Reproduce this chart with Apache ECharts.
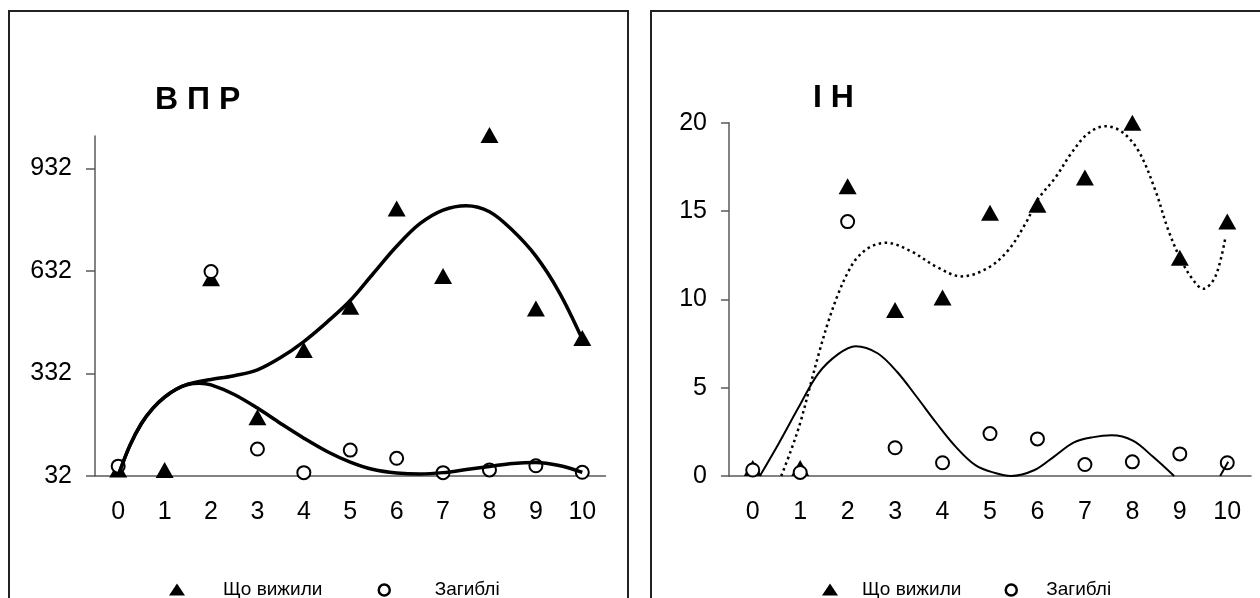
<!DOCTYPE html>
<html><head><meta charset="utf-8">
<script src="https://cdn.jsdelivr.net/npm/echarts@6/dist/echarts.min.js"></script>
<style>html,body{margin:0;padding:0;background:#fff}#c{width:1260px;height:598px}</style>
</head><body><div id="c"></div>
<script>
const categories = ['0','1','2','3','4','5','6','7','8','9','10'];
const xIndex = [0,1,2,3,4,5,6,7,8,9,10];
const leftTitle = 'В П Р';
const rightTitle = 'І Н';
const nameSurvived = 'Що вижили';
const nameDead = 'Загиблі';
const leftYTicks = [32,332,632,932];
const rightYTicks = [0,5,10,15,20];

// left chart (ВПР)
const survivedL = [50,49,610,203,400,527,815,617,1030,522,435];
const deadL = [60,null,630,110,41,107,83,41,49,61,42];
const trendSurvivedL = [[0,32],[0.25,120],[0.5,185],[0.75,230],[1,262],[1.25,285],[1.5,300],[1.75,308],[2,314],[2.5,325],[3,342],[3.5,378],[4,425],[4.5,482],[5,545],[5.5,625],[6,704],[6.5,770],[7,810],[7.5,823],[8,805],[8.5,750],[9,675],[9.5,570],[10,432]];
const trendDeadL = [[0,32],[0.25,120],[0.5,185],[0.75,230],[1,262],[1.25,285],[1.5,299],[1.75,303],[2,298],[2.5,270],[3,230],[3.5,185],[4,142],[4.5,103],[5,72],[5.5,50],[6,40],[6.5,37],[7,41],[7.5,50],[8,59],[8.5,68],[9,71],[9.5,62],[10,42]];

// right chart (ІН)
const survivedR = [0.45,0.45,16.4,9.4,10.1,14.9,15.35,16.9,20.0,12.35,14.4];
const deadR = [0.34,0.2,14.4,1.6,0.75,2.4,2.1,0.65,0.8,1.25,0.75];
const trendSurvivedR = [[0.6,0],[0.8,1.4],[1.0,3.0],[1.2,5.0],[1.4,7.0],[1.6,8.8],[1.8,10.3],[2.0,11.5],[2.2,12.35],[2.5,13.0],[2.82,13.2],[3.35,12.7],[3.9,11.8],[4.4,11.3],[4.97,11.8],[5.39,12.8],[5.75,14.3],[6.02,15.7],[6.38,16.9],[6.72,18.3],[7.07,19.4],[7.43,19.8],[7.77,19.5],[8.13,18.4],[8.48,16.2],[8.76,13.9],[9.03,12.2],[9.28,11.1],[9.49,10.6],[9.75,11.3],[9.96,13.5]];
const trendDeadR = [[0.15,0],[0.56,1.9],[0.97,3.9],[1.38,5.8],[1.8,6.9],[2.17,7.35],[2.63,6.95],[3.04,5.9],[3.45,4.5],[3.87,3.0],[4.28,1.65],[4.7,0.6],[5.11,0.17],[5.44,0],[5.94,0.34],[6.35,1.1],[6.77,1.9],[7.18,2.2],[7.56,2.3],[8.01,2.0],[8.43,1.1],[8.88,0]];
const trendDeadRTail = [[9.85,0],[10.02,0.8]];

const FONT = 'Liberation Sans, Arial, sans-serif';
const axisColor = '#5a5a5a';
const pairs = (vals) => xIndex.map((x,i)=>[x, vals[i]]).filter(p => p[1] !== null);

function catAxis(grid){
  return {gridIndex:grid, type:'category', data:categories, boundaryGap:true,
    axisLine:{onZero:false, lineStyle:{color:axisColor, width:1.5}},
    axisTick:{length:8, lineStyle:{color:axisColor, width:1.5}},
    axisLabel:{interval:0, margin:24, fontSize:25, color:'#000', fontFamily:FONT},
    splitLine:{show:false}};
}
function valXAxis(grid){
  return {gridIndex:grid, type:'value', min:-0.5, max:10.5, show:false, axisLine:{onZero:false}};
}
function scatterS(name, data, xi, yi, tri){
  return tri ? {type:'scatter', name, xAxisIndex:xi, yAxisIndex:yi, data, symbol:'triangle', symbolSize:[18,16],
      itemStyle:{color:'#000', opacity:1}, clip:false, z:2, silent:true}
    : {type:'scatter', name, xAxisIndex:xi, yAxisIndex:yi, data, symbol:'circle', symbolSize:13,
      itemStyle:{color:'#fff', borderColor:'#000', borderWidth:2, opacity:1}, clip:false, z:3, silent:true};
}
function lineS(data, xi, yi, width, type){
  return {type:'line', xAxisIndex:xi, yAxisIndex:yi, data, smooth:0.35, symbol:'none', showSymbol:false,
    lineStyle:{color:'#000', width, type: type || 'solid', cap:'butt'}, z:4, clip:true, silent:true};
}
function legendItem(name, left, top, w, h, pad, icon, style){
  const d = {name, icon};
  if (style) d.itemStyle = style;
  return {data:[d], left, top, itemWidth:w, itemHeight:h, padding:0, symbolKeepAspect:false, selectedMode:false,
    textStyle:{fontSize:19, color:'#000', fontFamily:FONT, padding:[0,0,0,pad]}};
}

const option = {
  animation:false,
  backgroundColor:'#fff',
  title:[
    {text:leftTitle, left:155, top:84, padding:0, textStyle:{fontSize:32, fontWeight:'bold', color:'#000', fontFamily:FONT}},
    {text:rightTitle, left:813, top:82.5, padding:0, textStyle:{fontSize:32, fontWeight:'bold', color:'#000', fontFamily:FONT}}
  ],
  legend:[
    legendItem(nameSurvived, 169, 580, 16, 12, 33, 'triangle', {color:'#000', opacity:1}),
    legendItem(nameDead, 377.5, 580.5, 11, 11, 40, 'circle', {color:'#fff', borderColor:'#000', borderWidth:2.5, opacity:1}),
    legendItem(nameSurvived, 822, 580, 16, 12, 19, 'triangle', {color:'#000', opacity:1}),
    legendItem(nameDead, 1004.5, 580.5, 11, 11, 24.5, 'circle', {color:'#fff', borderColor:'#000', borderWidth:2.5, opacity:1})
  ],
  grid:[
    {left:95, top:136, width:510.5, height:339.7},
    {left:729, top:122.7, width:522, height:353.3}
  ],
  xAxis:[catAxis(0), valXAxis(0), catAxis(1), valXAxis(1)],
  yAxis:[
    {gridIndex:0, type:'value', min:32, max:1027,
      axisLine:{show:true, onZero:false, lineStyle:{color:axisColor, width:1.5}},
      axisTick:{show:true, length:9, customValues:leftYTicks, lineStyle:{color:axisColor, width:1.5}},
      axisLabel:{customValues:leftYTicks, margin:23, fontSize:25, color:'#000', fontFamily:FONT},
      splitLine:{show:false}},
    {gridIndex:1, type:'value', min:0, max:20, interval:5,
      axisLine:{show:true, onZero:false, lineStyle:{color:axisColor, width:1.5}},
      axisTick:{show:true, length:8, customValues:rightYTicks, lineStyle:{color:axisColor, width:1.5}},
      axisLabel:{customValues:rightYTicks, margin:22, fontSize:25, color:'#000', fontFamily:FONT},
      splitLine:{show:false}}
  ],
  graphic:[
    {type:'rect', shape:{x:9, y:11, width:619, height:700}, style:{fill:'none', stroke:'#222', lineWidth:2}, silent:true},
    {type:'rect', shape:{x:651, y:11, width:700, height:700}, style:{fill:'none', stroke:'#222', lineWidth:2}, silent:true}
  ],
  series:[
    scatterS(nameSurvived, pairs(survivedL), 1, 0, true),
    scatterS(nameDead, pairs(deadL), 1, 0, false),
    lineS(trendSurvivedL, 1, 0, 3.5),
    lineS(trendDeadL, 1, 0, 3.5),
    scatterS(nameSurvived, pairs(survivedR), 3, 1, true),
    scatterS(nameDead, pairs(deadR), 3, 1, false),
    lineS(trendSurvivedR, 3, 1, 2.5, [2.5,3.5]),
    lineS(trendDeadR, 3, 1, 2),
    lineS(trendDeadRTail, 3, 1, 2)
  ]
};
const chart = echarts.init(document.getElementById('c'), null, {renderer:'canvas'});
chart.setOption(option);
</script></body></html>
